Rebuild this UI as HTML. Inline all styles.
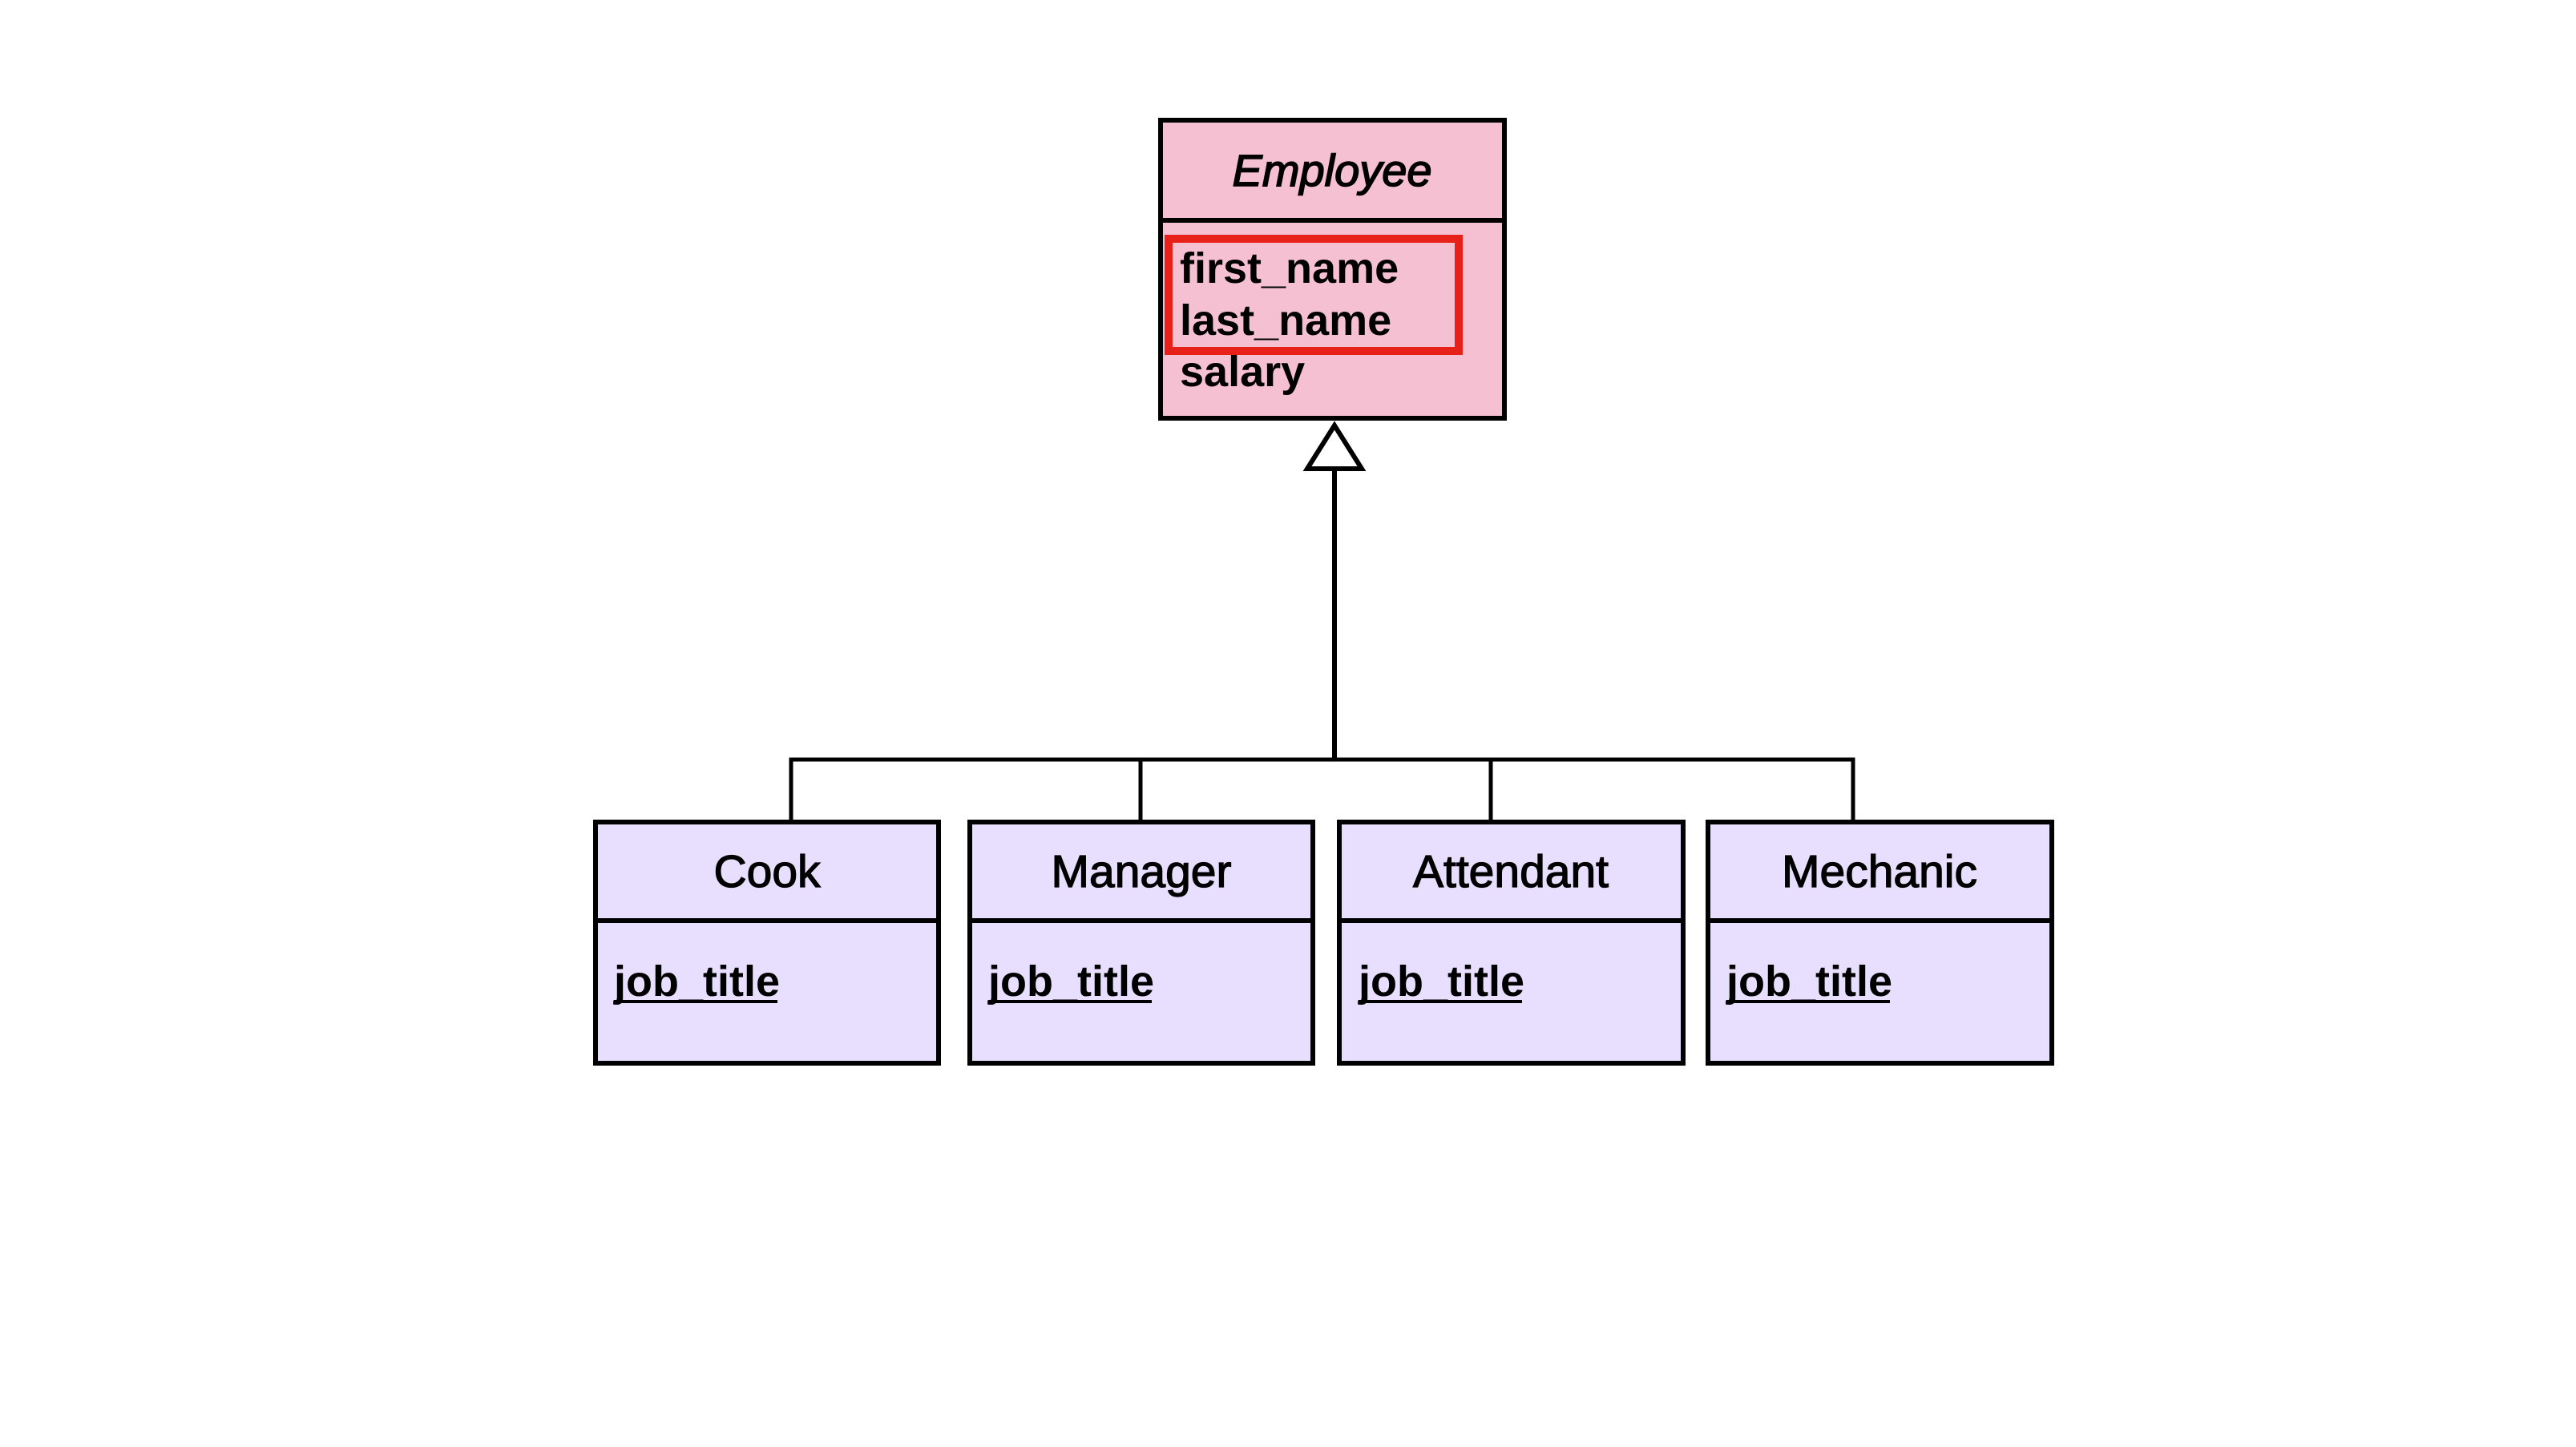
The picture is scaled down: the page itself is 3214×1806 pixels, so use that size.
<!DOCTYPE html>
<html><head><meta charset="utf-8"><style>html,body{margin:0;padding:0;background:#fff;width:3214px;height:1806px;overflow:hidden}</style></head>
<body>
<svg width="3214" height="1806" xmlns="http://www.w3.org/2000/svg" font-family="Liberation Sans, Arial, sans-serif">
<rect width="3214" height="1806" fill="#fff"/>
<!-- Employee -->
<rect x="1448" y="150" width="429" height="372" fill="#f5c1d2" stroke="#000" stroke-width="6"/>
<line x1="1448" y1="275" x2="1877" y2="275" stroke="#000" stroke-width="6"/>
<text x="1662" y="232" font-size="56" font-style="italic" text-anchor="middle" fill="#000" stroke="#000" stroke-width="1.6">Employee</text>
<rect x="1458" y="298" width="362" height="140" fill="none" stroke="#e8201a" stroke-width="10"/>
<g font-size="54" font-weight="bold" fill="#000">
<text x="1472" y="353">first_name</text>
<text x="1472" y="418">last_name</text>
<text x="1472" y="482">salary</text>
</g>
<!-- connectors -->
<polygon points="1665,531 1631,585 1699,585" fill="#fff" stroke="#000" stroke-width="6"/>
<line x1="1665" y1="585" x2="1665" y2="948" stroke="#000" stroke-width="6"/>
<polyline points="987,1023 987,948 2312,948 2312,1023" fill="none" stroke="#000" stroke-width="5"/>
<line x1="1423" y1="948" x2="1423" y2="1023" stroke="#000" stroke-width="5"/>
<line x1="1860" y1="948" x2="1860" y2="1023" stroke="#000" stroke-width="5"/>
<!-- subclasses -->
<g stroke="#000" stroke-width="6" fill="#e8defd">
<rect x="743" y="1026" width="428" height="301"/>
<rect x="1210" y="1026" width="428" height="301"/>
<rect x="1671" y="1026" width="429" height="301"/>
<rect x="2131" y="1026" width="429" height="301"/>
<line x1="743" y1="1149" x2="1171" y2="1149"/>
<line x1="1210" y1="1149" x2="1638" y2="1149"/>
<line x1="1671" y1="1149" x2="2100" y2="1149"/>
<line x1="2131" y1="1149" x2="2560" y2="1149"/>
</g>
<g font-size="57" text-anchor="middle" fill="#000" stroke="#000" stroke-width="1.3">
<text x="957" y="1107">Cook</text>
<text x="1424" y="1107">Manager</text>
<text x="1885" y="1107">Attendant</text>
<text x="2345" y="1107">Mechanic</text>
</g>
<g font-size="54" font-weight="bold" fill="#000">
<text x="766" y="1243">job_title</text>
<text x="1233" y="1243">job_title</text>
<text x="1695" y="1243">job_title</text>
<text x="2154" y="1243">job_title</text>
</g>
<g stroke="#000" stroke-width="4">
<line x1="766" y1="1250" x2="970" y2="1250"/>
<line x1="1233" y1="1250" x2="1437" y2="1250"/>
<line x1="1695" y1="1250" x2="1899" y2="1250"/>
<line x1="2154" y1="1250" x2="2358" y2="1250"/>
</g>
</svg>
</body></html>
